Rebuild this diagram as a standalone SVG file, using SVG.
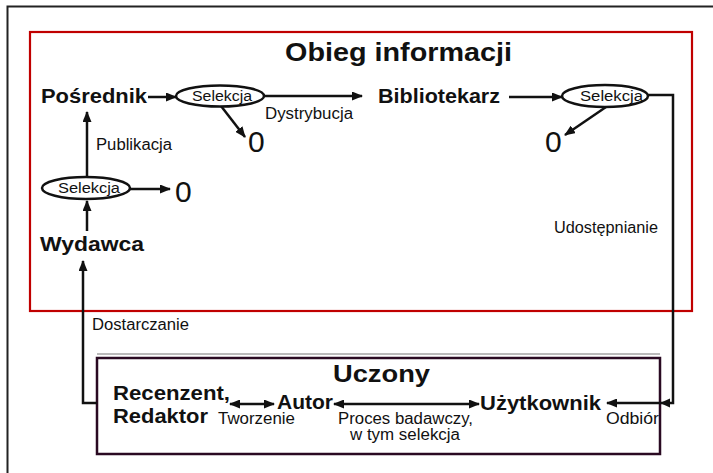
<svg xmlns="http://www.w3.org/2000/svg" width="713" height="473" viewBox="0 0 713 473">
  <style>
    .node { font-family: "Liberation Sans", Arial, sans-serif; font-weight: bold; fill: #111; }
    .lbl { font-family: "Liberation Sans", Arial, sans-serif; font-size: 16px; fill: #111; }
    .sel { font-family: "Liberation Sans", Arial, sans-serif; font-size: 14px; fill: #111; }
    .zero { font-family: "Liberation Sans", Arial, sans-serif; font-size: 30px; fill: #111; }
    .oval { fill: #fff; stroke: #111; stroke-width: 2.5; }
    .conn { fill: none; stroke: #111; stroke-width: 2.5; }
  </style>
  <defs>
    <marker id="ah" viewBox="0 0 11 9" refX="10" refY="4.5" markerWidth="11" markerHeight="9" markerUnits="userSpaceOnUse" orient="auto-start-reverse">
      <path d="M0,0 L11,4.5 L0,9 z" fill="#111"/>
    </marker>
  </defs>

  <rect width="713" height="473" fill="#fff"/>

  <!-- outer frame -->
  <path d="M7.5,473 V6.5 H713" fill="none" stroke="#222" stroke-width="2"/>

  <!-- Obieg informacji panel -->
  <g id="panel-obieg">
    <rect x="30" y="32" width="662" height="279" fill="none" stroke="#c00000" stroke-width="2.2"/>
    <text class="node" x="285" y="61" font-size="25" textLength="227" lengthAdjust="spacingAndGlyphs">Obieg informacji</text>
  </g>

  <!-- Uczony panel -->
  <g id="panel-uczony">
    <line x1="97" y1="354" x2="660" y2="354" stroke="#777" stroke-width="1"/>
    <rect x="97" y="358" width="563" height="96" fill="none" stroke="#2a0a22" stroke-width="2.5"/>
    <text class="node" x="333" y="382" font-size="23" textLength="97" lengthAdjust="spacingAndGlyphs">Uczony</text>
  </g>

  <!-- connectors -->
  <g id="connectors">
    <line class="conn" x1="148" y1="97" x2="176" y2="97" marker-end="url(#ah)"/>
    <line class="conn" x1="264" y1="96" x2="362" y2="96" marker-end="url(#ah)"/>
    <line class="conn" x1="221" y1="106" x2="245" y2="137" marker-end="url(#ah)"/>
    <line class="conn" x1="509" y1="97" x2="562" y2="97" marker-end="url(#ah)"/>
    <line class="conn" x1="606" y1="107" x2="565" y2="135" marker-end="url(#ah)"/>
    <line class="conn" x1="87" y1="177" x2="87" y2="112" marker-end="url(#ah)"/>
    <line class="conn" x1="130" y1="189" x2="170" y2="189" marker-end="url(#ah)"/>
    <line class="conn" x1="87" y1="231" x2="87" y2="201" marker-end="url(#ah)"/>
    <path class="conn" d="M647,95 H673 V403 H607" marker-end="url(#ah)"/>
    <path d="M660,403 L670,398.5 L670,407.5 z" fill="#111"/>
    <path class="conn" d="M97,403 H83 V261" marker-end="url(#ah)"/>
    <line class="conn" x1="230" y1="404" x2="274" y2="404" marker-start="url(#ah)" marker-end="url(#ah)"/>
    <line class="conn" x1="334" y1="404" x2="479" y2="404" marker-start="url(#ah)" marker-end="url(#ah)"/>
  </g>

  <!-- connector labels -->
  <g id="labels">
    <text class="lbl" x="265" y="119" textLength="88" lengthAdjust="spacingAndGlyphs">Dystrybucja</text>
    <text class="lbl" x="96" y="150" textLength="76" lengthAdjust="spacingAndGlyphs">Publikacja</text>
    <text class="lbl" x="554" y="233" textLength="104" lengthAdjust="spacingAndGlyphs">Udostępnianie</text>
    <text class="lbl" x="92" y="330" textLength="97" lengthAdjust="spacingAndGlyphs">Dostarczanie</text>
    <text class="lbl" x="218" y="424" textLength="77" lengthAdjust="spacingAndGlyphs">Tworzenie</text>
    <text class="lbl" x="338" y="424" textLength="135" lengthAdjust="spacingAndGlyphs">Proces badawczy,</text>
    <text class="lbl" x="350" y="440" textLength="110" lengthAdjust="spacingAndGlyphs">w tym selekcja</text>
    <text class="lbl" x="606" y="424" textLength="53" lengthAdjust="spacingAndGlyphs">Odbiór</text>
  </g>

  <g id="posrednik">
    <text class="node" x="41" y="103" font-size="21" textLength="106" lengthAdjust="spacingAndGlyphs">Pośrednik</text>
  </g>
  <g id="selekcja-1">
    <ellipse class="oval" cx="220" cy="96" rx="44" ry="10.5"/>
    <text class="sel" x="192" y="101" textLength="60" lengthAdjust="spacingAndGlyphs">Selekcja</text>
  </g>
  <g id="zero-1">
    <text class="zero" x="248" y="152">0</text>
  </g>
  <g id="bibliotekarz">
    <text class="node" x="378" y="103" font-size="21" textLength="122" lengthAdjust="spacingAndGlyphs">Bibliotekarz</text>
  </g>
  <g id="selekcja-2">
    <ellipse class="oval" cx="605" cy="96" rx="43" ry="11"/>
    <text class="sel" x="580" y="101" font-size="13" textLength="63" lengthAdjust="spacingAndGlyphs">Selekcja</text>
  </g>
  <g id="zero-2">
    <text class="zero" x="545" y="152">0</text>
  </g>
  <g id="selekcja-3">
    <ellipse class="oval" cx="86" cy="188" rx="44" ry="11"/>
    <text class="sel" x="58" y="193" textLength="62" lengthAdjust="spacingAndGlyphs">Selekcja</text>
  </g>
  <g id="zero-3">
    <text class="zero" x="175" y="202">0</text>
  </g>
  <g id="wydawca">
    <text class="node" x="40" y="251" font-size="20" textLength="104" lengthAdjust="spacingAndGlyphs">Wydawca</text>
  </g>
  <g id="recenzent">
    <text class="node" x="113" y="400" font-size="21" textLength="117" lengthAdjust="spacingAndGlyphs">Recenzent,</text>
    <text class="node" x="113" y="423" font-size="21" textLength="95" lengthAdjust="spacingAndGlyphs">Redaktor</text>
  </g>
  <g id="autor">
    <text class="node" x="277" y="409" font-size="21" textLength="56" lengthAdjust="spacingAndGlyphs">Autor</text>
  </g>
  <g id="uzytkownik">
    <text class="node" x="480" y="410" font-size="21" textLength="121" lengthAdjust="spacingAndGlyphs">Użytkownik</text>
  </g>
</svg>
